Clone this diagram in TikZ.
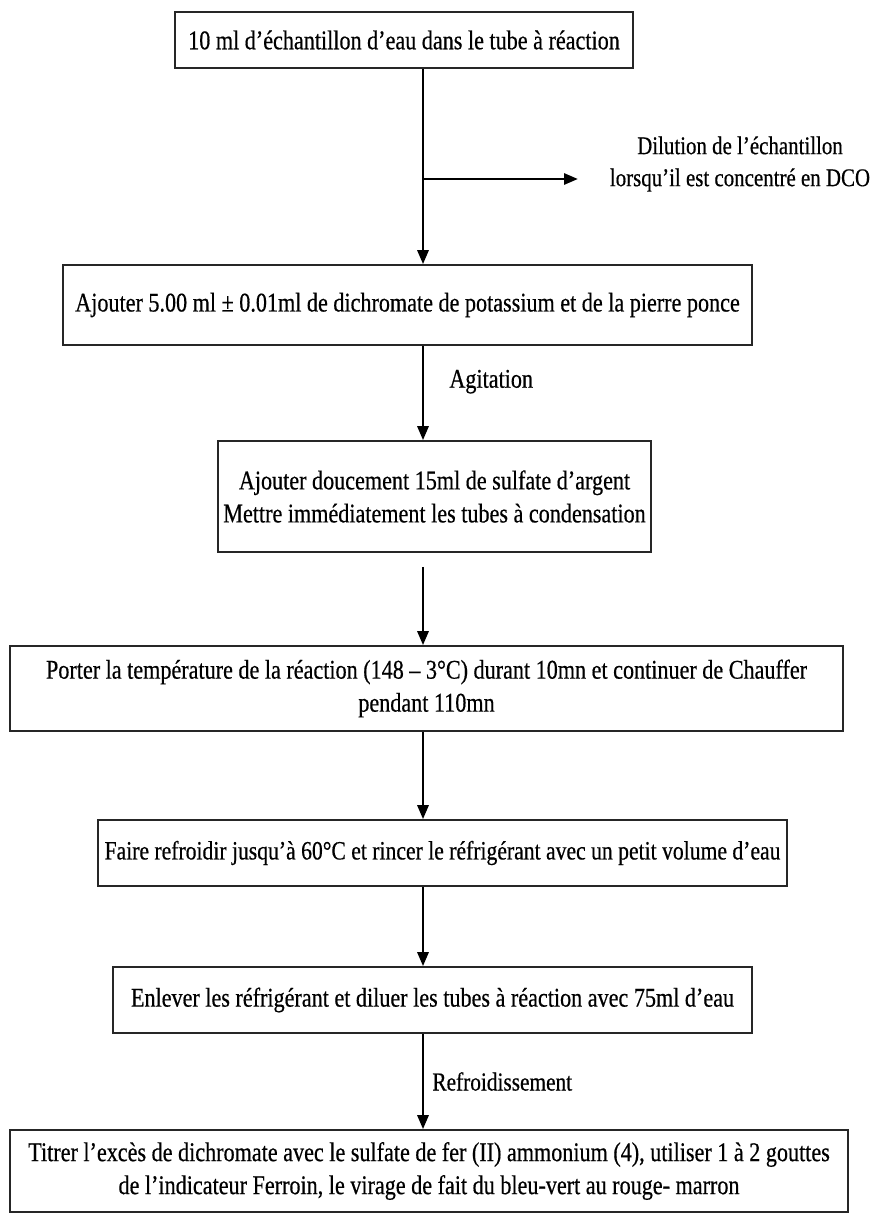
\documentclass[tikz,border=0pt]{standalone}
\usepackage{fontspec}
\setmainfont{Liberation Serif}[FakeStretch=0.82, FakeBold=0.5]
\usetikzlibrary{arrows.meta}
\tikzset{
  box/.style={draw=black!85, line width=1.6pt, inner sep=0pt, align=center,
    font=\fontsize{27}{33}\selectfont},
  flow/.style={line width=2.8pt, -{Triangle[length=14pt,width=11pt]}},
  lbl/.style={font=\fontsize{27}{32}\selectfont, inner sep=0pt, align=center}
}
\begin{document}
\begin{tikzpicture}[x=1pt,y=-1pt]
\path[use as bounding box, fill=white] (0,0) rectangle (877,1226);
\coordinate (ax) at (423,0);
\node[box, minimum width=458pt, minimum height=56pt] (b1) at (404,40)
  {10 ml d’échantillon d’eau dans le tube à réaction};
\node[box, minimum width=689pt, minimum height=80pt] (b2) at (407.5,305)
  {Ajouter 5.00 ml ± 0.01ml de dichromate de potassium et de la pierre ponce};
\node[box, minimum width=433pt, minimum height=111pt] (b3) at (434.5,496.5)
  {Ajouter doucement 15ml de sulfate d’argent\\Mettre immédiatement les tubes à condensation};
\node[box, minimum width=833pt, minimum height=85pt] (b4) at (426.5,688.5)
  {Porter la température de la réaction (148 – 3°C) durant 10mn et continuer de Chauffer\\pendant 110mn};
\node[box, minimum width=689pt, minimum height=66pt, font=\fontsize{26.4}{33}\selectfont] (b5) at (442.5,853)
  {Faire refroidir jusqu’à 60°C et rincer le réfrigérant avec un petit volume d’eau};
\node[box, minimum width=639pt, minimum height=66pt] (b6) at (432.5,1000)
  {Enlever les réfrigérant et diluer les tubes à réaction avec 75ml d’eau};
\node[box, minimum width=838pt, minimum height=82pt] (b7) at (429,1171)
  {Titrer l’excès de dichromate avec le sulfate de fer (II) ammonium (4), utiliser 1 à 2 gouttes\\de l’indicateur Ferroin, le virage de fait du bleu-vert au rouge- marron};
\node[lbl, font=\fontsize{25.5}{32}\selectfont] (dil) at (740,164) {Dilution de l’échantillon\\lorsqu’il est concentré en DCO};
\coordinate (br) at (423,179);
\coordinate (brend) at (578,179);
\draw[flow] (b1.south -| ax) -- (b2.north -| ax);
\draw[flow] (br) -- (brend);
\draw[flow] (b2.south -| ax) -- (b3.north -| ax)
  node[lbl, pos=0.38, right=25pt] (ag) {Agitation};
\draw[flow, shorten <=14pt] (b3.south -| ax) -- (b4.north -| ax);
\draw[flow] (b4.south -| ax) -- (b5.north -| ax);
\draw[flow] (b5.south -| ax) -- (b6.north -| ax);
\draw[flow] (b6.south -| ax) -- (b7.north -| ax)
  node[lbl, pos=0.5, right=8pt, font=\fontsize{26}{32}\selectfont] (re) {Refroidissement};
\end{tikzpicture}
\end{document}
